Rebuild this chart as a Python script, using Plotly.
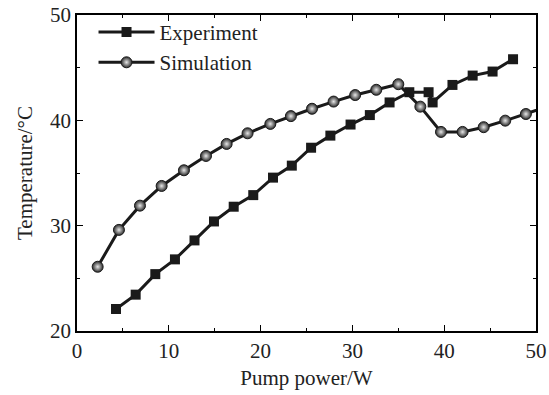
import plotly.graph_objects as go

exp_x = [4.25, 6.39, 8.53, 10.67, 12.8, 14.92, 17.07, 19.2, 21.35, 23.4, 25.5, 27.6, 29.8, 31.9, 34.05, 36.2, 38.3, 38.74, 40.9, 43.1, 45.27, 47.5]
exp_y = [22.09, 23.45, 25.4, 26.8, 28.6, 30.4, 31.8, 32.9, 34.56, 35.7, 37.4, 38.55, 39.6, 40.5, 41.7, 42.67, 42.67, 41.7, 43.36, 44.25, 44.63, 45.8]

sim_x = [2.25, 4.57, 6.86, 9.22, 11.65, 14.05, 16.3, 18.58, 21.06, 23.3, 25.6, 27.95, 30.3, 32.6, 35.0, 37.4, 39.65, 42.0, 44.3, 46.65, 48.9, 51.2]
sim_y = [26.1, 29.6, 31.9, 33.77, 35.26, 36.62, 37.76, 38.77, 39.66, 40.4, 41.1, 41.78, 42.4, 42.9, 43.43, 41.3, 38.9, 38.9, 39.35, 39.97, 40.6, 41.3]

FONT = "Liberation Serif, Times New Roman, serif"
FS = 21

fig = go.Figure()
fig.add_trace(go.Scatter(
    x=exp_x, y=exp_y, mode="lines+markers", name="Experiment",
    line=dict(color="#1a1a1a", width=3),
    marker=dict(symbol="square", size=10, color="#1a1a1a"),
))
fig.add_trace(go.Scatter(
    x=sim_x, y=sim_y, mode="lines+markers", name="Simulation",
    line=dict(color="#1a1a1a", width=3),
    marker=dict(symbol="circle", size=11, color="#2a2a2a",
                gradient=dict(type="radial", color="#e8e8e8"),
                line=dict(color="#1a1a1a", width=1)),
))

axis_common = dict(
    showline=True, linecolor="black", linewidth=1.5, mirror="ticks",
    ticks="inside", ticklen=6, tickwidth=1.2, tickcolor="black",
    showgrid=False, zeroline=False, automargin=False,
    tickfont=dict(family=FONT, size=FS, color="#222"),
    minor=dict(ticks="inside", ticklen=3, tickwidth=1.2, tickcolor="black", dtick=5, showgrid=False),
)

fig.update_xaxes(range=[0, 50], dtick=10, tick0=0,
                 title=dict(text="Pump power/W", font=dict(family=FONT, size=FS, color="#222"), standoff=8),
                 **axis_common)
fig.update_yaxes(range=[20, 50], dtick=10, tick0=20,
                 title=dict(text="Temperature/°C", font=dict(family=FONT, size=FS, color="#222"), standoff=12),
                 **axis_common)

fig.update_layout(
    width=549, height=395,
    margin=dict(l=77, r=13, t=15, b=64),
    plot_bgcolor="white", paper_bgcolor="white",
    font=dict(family=FONT, size=FS, color="#222"),
    legend=dict(x=0.036, y=1.01, xanchor="left", yanchor="top",
                bgcolor="rgba(0,0,0,0)", itemwidth=56,
                font=dict(family=FONT, size=FS, color="#222"),
                tracegroupgap=0),
    showlegend=True,
)

fig.write_html("out.html")
